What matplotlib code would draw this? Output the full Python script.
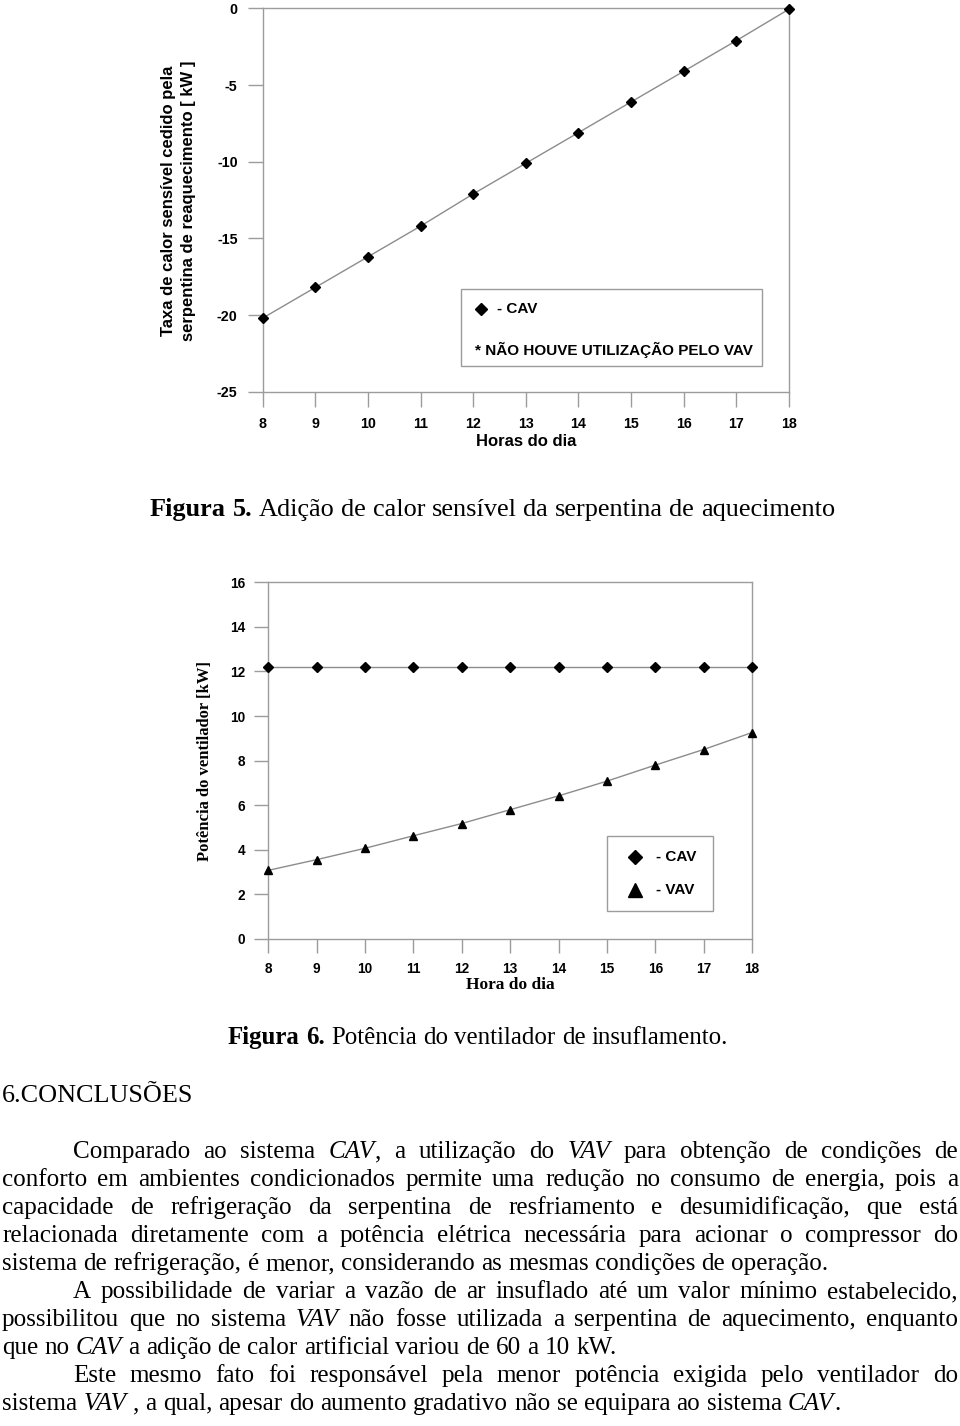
import matplotlib
matplotlib.use("Agg")
import matplotlib.pyplot as plt
from matplotlib.lines import Line2D
from matplotlib.patches import Rectangle

# ---------------- data ----------------
hours = [8, 9, 10, 11, 12, 13, 14, 15, 16, 17, 18]
reheat_cav = [-20.2, -18.2, -16.2, -14.2, -12.1, -10.1, -8.1, -6.1, -4.1, -2.1, -0.05]
fan_cav = [12.2, 12.2, 12.2, 12.2, 12.2, 12.2, 12.2, 12.2, 12.2, 12.2, 12.2]
fan_vav = [3.08, 3.56, 4.07, 4.63, 5.18, 5.80, 6.42, 7.08, 7.80, 8.50, 9.26]
reheat_yticks = [0, -5, -10, -15, -20, -25]
fan_yticks = [0, 2, 4, 6, 8, 10, 12, 14, 16]

body_lines = [
    (True, True, "Comparado ao sistema *CAV*, a utilização do *VAV* para obtenção de condições de"),
    (False, True, "conforto em ambientes condicionados permite uma redução no consumo de energia, pois a"),
    (False, True, "capacidade de refrigeração da serpentina de resfriamento e desumidificação, que está"),
    (False, True, "relacionada diretamente com a potência elétrica necessária para acionar o compressor do"),
    (False, False, "sistema de refrigeração, é menor, considerando as mesmas condições de operação."),
    (True, True, "A possibilidade de variar a vazão de ar insuflado até um valor mínimo estabelecido,"),
    (False, True, "possibilitou que no sistema *VAV* não fosse utilizada a serpentina de aquecimento, enquanto"),
    (False, False, "que no *CAV* a adição de calor artificial variou de 60 a 10 kW."),
    (True, True, "Este mesmo fato foi responsável pela menor potência exigida pelo ventilador do"),
    (False, False, "sistema *VAV* , a qual, apesar do aumento gradativo não se equipara ao sistema *CAV*."),
]

# ---------------- setup ----------------
W, H = 960, 1426
SANS = ['Liberation Sans', 'DejaVu Sans']
SERIF = ['Liberation Serif', 'DejaVu Serif']
plt.rcParams['font.family'] = SANS

fig = plt.figure(figsize=(W / 100, H / 100), dpi=100)
renderer = fig.canvas.get_renderer()

GRAY = '#9c9c9c'
LINE = '#8c8c8c'


def fx(px):
    return px / W


def fy(py):
    return 1 - py / H


def style_axes(ax, ticklen, pad, labelsize):
    for sp in ax.spines.values():
        sp.set_color(GRAY)
        sp.set_linewidth(1.0)
    ax.tick_params(direction='out', length=ticklen, width=1.0, color=GRAY,
                   labelsize=labelsize, pad=pad, labelcolor='black')


# ---------------- Figure 5 chart ----------------
ax1 = fig.add_axes([fx(262.7), fy(391.7), (789 - 262.7) / W, (391.7 - 8.4) / H])
ax1.plot(hours, reheat_cav, color=LINE, lw=1.0, marker='D', ms=5.3,
         mfc='black', mec='black', clip_on=False, zorder=3)
ax1.set_xlim(8, 18)
ax1.set_ylim(-25, 0)
ax1.set_xticks(hours, [str(h) for h in hours], fontweight='bold')
ax1.set_yticks(reheat_yticks, [str(v) for v in reheat_yticks], fontweight='bold')
style_axes(ax1, 11, 7, 10.3)

fig.text(fx(169), fy(201), 'Taxa de calor sensível cedido pela', rotation=90,
         ha='center', va='center', fontsize=12, fontweight='bold')
fig.text(fx(189), fy(201), 'serpentina de reaquecimento [ kW ]', rotation=90,
         ha='center', va='center', fontsize=12, fontweight='bold')
fig.text(fx(526), fy(441), 'Horas do dia', ha='center', va='center',
         fontsize=12, fontweight='bold')

fig.add_artist(Rectangle((fx(460.7), fy(365.7)), (761.7 - 460.7) / W, (365.7 - 289) / H,
                         transform=fig.transFigure, fill=False, ec=GRAY, lw=1.0))
fig.add_artist(Line2D([fx(480.7)], [fy(309.3)], marker='D', ms=6.6, color='black',
                      ls='none', transform=fig.transFigure))
fig.text(fx(497), fy(309.3), '- CAV', va='center', ha='left', fontsize=11, fontweight='bold')
fig.text(fx(475), fy(350), '* NÃO HOUVE UTILIZAÇÃO PELO VAV', va='center', ha='left',
         fontsize=11, fontweight='bold')

# ---------------- Figure 6 chart ----------------
ax2 = fig.add_axes([fx(268.3), fy(939), (752 - 268.3) / W, (939 - 582.3) / H])
ax2.plot(hours, fan_cav, color=LINE, lw=1.0, marker='D', ms=5.0,
         mfc='black', mec='black', clip_on=False, zorder=3)
ax2.plot(hours, fan_vav, color=LINE, lw=1.0, marker='^', ms=6.0,
         mfc='black', mec='black', clip_on=False, zorder=3)
ax2.set_xlim(8, 18)
ax2.set_ylim(0, 16)
ax2.set_xticks(hours, [str(h) for h in hours], fontweight='bold')
ax2.set_yticks(fan_yticks, [str(v) for v in fan_yticks], fontweight='bold')
style_axes(ax2, 10, 6.5, 9.8)

fig.text(fx(205), fy(761), 'Potência do ventilador [kW]', rotation=90, ha='center',
         va='center', fontsize=12, fontweight='bold', family=SERIF)
fig.text(fx(510), fy(985), 'Hora do dia', ha='center', va='center', fontsize=12.5,
         fontweight='bold', family=SERIF)

fig.add_artist(Rectangle((fx(607), fy(911)), (713 - 607) / W, (911 - 836) / H,
                         transform=fig.transFigure, fill=False, ec=GRAY, lw=1.0))
fig.add_artist(Line2D([fx(635)], [fy(857)], marker='D', ms=7.6, color='black',
                      ls='none', transform=fig.transFigure))
fig.add_artist(Line2D([fx(635)], [fy(890)], marker='^', ms=9.4, color='black',
                      ls='none', transform=fig.transFigure))
fig.text(fx(656), fy(857), '- CAV', va='center', ha='left', fontsize=11, fontweight='bold')
fig.text(fx(656), fy(890), '- VAV', va='center', ha='left', fontsize=11, fontweight='bold')


# ---------------- text helpers ----------------
def parse_words(line, bold_words=0):
    words = []
    for i, w in enumerate(line.split(' ')):
        segs = []
        italic = False
        for j, piece in enumerate(w.split('*')):
            if j > 0:
                italic = not italic
            if piece:
                segs.append((piece, 'bold' if i < bold_words else 'normal',
                             'italic' if italic else 'normal'))
        words.append(segs)
    return words


def text_width(s, size, weight='normal', style='normal'):
    t = fig.text(0, 0, s, fontsize=size, family=SERIF, fontweight=weight, fontstyle=style)
    w = t.get_window_extent(renderer).width
    t.remove()
    return w


def space_width(size):
    return text_width('a a', size) - text_width('aa', size)


def word_widths(words, size):
    return [sum(text_width(s, size, wt, st) for s, wt, st in segs) for segs in words]


def natural_width(words, size):
    return sum(word_widths(words, size)) + (len(words) - 1) * space_width(size)


def layout(words, x0, x1, y, size, justify):
    ws = word_widths(words, size)
    if justify and len(words) > 1:
        gap = (x1 - x0 - sum(ws)) / (len(words) - 1)
    else:
        gap = space_width(size)
    x = x0
    for segs, w in zip(words, ws):
        cx = x
        for s, wt, st in segs:
            fig.text(fx(cx), fy(y), s, fontsize=size, family=SERIF, fontweight=wt,
                     fontstyle=st, va='baseline', ha='left', color='black')
            cx += text_width(s, size, wt, st)
        x += w + gap


def fitted_size(words, target, base=14.0):
    return base * target / natural_width(words, base)


# captions
cap5 = parse_words("Figura 5. Adição de calor sensível da serpentina de aquecimento", bold_words=2)
s5 = fitted_size(cap5, 686)
layout(cap5, 150, 836, 516, s5, False)

cap6 = parse_words("Figura 6. Potência do ventilador de insuflamento.", bold_words=2)
s6 = fitted_size(cap6, 502)
layout(cap6, 228, 730, 1044, s6, False)

head = parse_words("6.CONCLUSÕES")
sh = fitted_size(head, 191)
layout(head, 2, 193, 1102, sh, False)

# body
ref_words = parse_words(body_lines[4][2])
sb = fitted_size(ref_words, 831)
for i, (indent, just, line) in enumerate(body_lines):
    words = parse_words(line)
    x0 = 73 if indent else 2
    layout(words, x0, 958, 1158 + 28 * i, sb, just)

fig.savefig('out.png', dpi=100)
